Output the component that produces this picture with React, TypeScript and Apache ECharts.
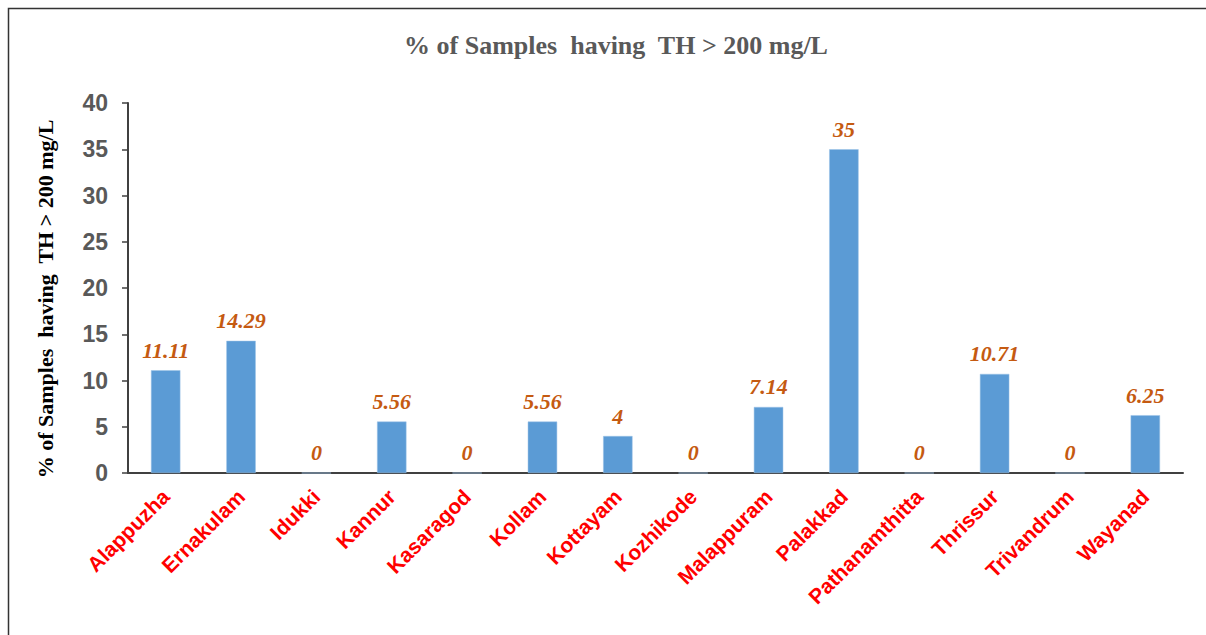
import React, { useEffect, useRef } from "react";
import * as echarts from "echarts";

const categories = [
  "Alappuzha", "Ernakulam", "Idukki", "Kannur", "Kasaragod", "Kollam", "Kottayam",
  "Kozhikode", "Malappuram", "Palakkad", "Pathanamthitta", "Thrissur", "Trivandrum", "Wayanad",
];
const values = [11.11, 14.29, 0, 5.56, 0, 5.56, 4, 0, 7.14, 35, 0, 10.71, 0, 6.25];
const titleText = "% of Samples  having  TH > 200 mg/L";
const yAxisName = "% of Samples  having  TH > 200 mg/L";

export default function App() {
  const ref = useRef<HTMLDivElement>(null);
  useEffect(() => {
    if (!ref.current) return;
    const chart = echarts.init(ref.current, null, { renderer: "svg" });
    chart.setOption({
      animation: false,
      backgroundColor: "#ffffff",
      graphic: [
        {
          type: "rect",
          shape: { x: 8.5, y: 8.5, width: 1300, height: 700 },
          style: { fill: "none", stroke: "#333333", lineWidth: 1.5 },
          silent: true,
        },
        {
          type: "text",
          x: 616,
          y: 45,
          style: {
            text: titleText,
            textAlign: "center",
            textVerticalAlign: "middle",
            fontFamily: "Liberation Serif",
            fontWeight: "bold",
            fontSize: 26,
            fill: "#595959",
          },
        },
        {
          type: "text",
          x: 45,
          y: 299,
          rotation: Math.PI / 2,
          style: {
            text: yAxisName,
            textAlign: "center",
            textVerticalAlign: "middle",
            fontFamily: "Liberation Serif",
            fontWeight: "bold",
            fontSize: 22,
            fill: "#000000",
          },
        },
      ],
      grid: { left: 128, right: 23, top: 103, bottom: 162 },
      xAxis: {
        type: "category",
        data: categories,
        axisLine: { lineStyle: { color: "#404040", width: 2 } },
        axisTick: { show: false },
        axisLabel: {
          rotate: 45,
          interval: 0,
          margin: 20,
          color: "#ff0000",
          fontFamily: "Liberation Sans",
          fontWeight: "bold",
          fontSize: 21,
        },
      },
      yAxis: {
        type: "value",
        min: 0,
        max: 40,
        interval: 5,
        axisLine: { show: true, lineStyle: { color: "#404040", width: 2 } },
        axisTick: { show: true, length: 6, lineStyle: { color: "#404040", width: 1.5 } },
        splitLine: { show: false },
        axisLabel: {
          margin: 20,
          color: "#595959",
          fontFamily: "Liberation Sans",
          fontWeight: "bold",
          fontSize: 23,
        },
      },
      series: [
        {
          type: "bar",
          data: values,
          barWidth: "39%",
          itemStyle: { color: "#5b9bd5", borderColor: "#9dc3e6", borderWidth: 0.5 },
          label: {
            show: true,
            position: "top",
            distance: 9,
            color: "#c55a11",
            fontFamily: "Liberation Serif",
            fontStyle: "italic",
            fontWeight: "bold",
            fontSize: 22,
          },
        },
      ],
    });
    return () => chart.dispose();
  }, []);
  return (
    <div
      ref={ref}
      style={{ position: "absolute", left: 0, top: 0, width: 1206, height: 635 }}
    />
  );
}
